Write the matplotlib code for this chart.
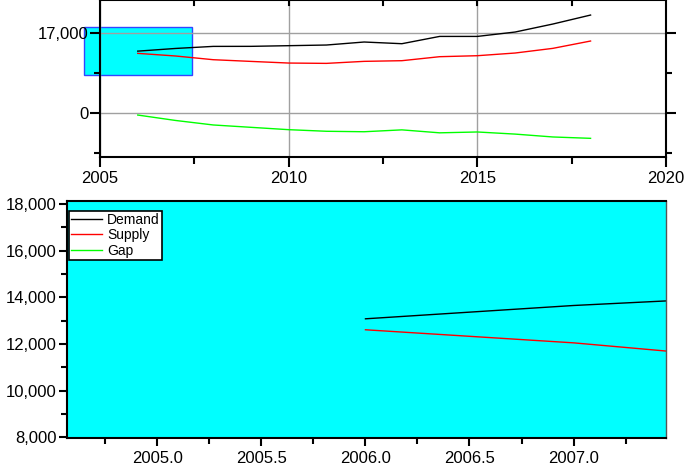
import matplotlib
matplotlib.use("Agg")
import matplotlib.pyplot as plt
from matplotlib.ticker import MultipleLocator, FixedLocator, FuncFormatter
from matplotlib.patches import Rectangle

plt.rcParams['font.family'] = ['Liberation Sans', 'DejaVu Sans']

years = [2006, 2007, 2008, 2009, 2010, 2011, 2012, 2013, 2014, 2015, 2016, 2017, 2018]
demand = [13080, 13650, 14090, 14100, 14240, 14380, 15020, 14660, 16210, 16210, 17140, 18840, 20750]
supply = [12610, 12050, 11260, 10900, 10550, 10480, 10910, 11050, 11900, 12110, 12680, 13670, 15230]
gap = [-500, -1650, -2610, -3110, -3610, -3950, -4050, -3650, -4280, -4100, -4550, -5160, -5450]

top_yticks = [0, 17000]
zoom_x = (2004.564, 2007.446)
zoom_y = (7960, 18140)

fig = plt.figure(figsize=(6.85, 4.65), dpi=100)

# ---------- top overview panel ----------
ax1 = fig.add_axes([0.146, 0.6624, 0.8263, 0.3376])
ax1.set_xlim(2005, 2020)
ax1.set_ylim(-9414, 23949)
ax1.plot(years, demand, color='black', lw=1.0, zorder=4)
ax1.plot(years, supply, color='red', lw=1.0, zorder=4)
ax1.plot(years, gap, color='#00ff00', lw=1.0, zorder=4)
rect = Rectangle((zoom_x[0], zoom_y[0]), zoom_x[1] - zoom_x[0], zoom_y[1] - zoom_y[0],
                 facecolor='cyan', edgecolor='#3344ff', lw=1.0, clip_on=False, zorder=1)
ax1.add_patch(rect)
ax1.xaxis.set_major_locator(MultipleLocator(5))
ax1.xaxis.set_minor_locator(MultipleLocator(2.5))
ax1.yaxis.set_major_locator(FixedLocator(top_yticks))
ax1.yaxis.set_minor_locator(FixedLocator([-8500, 8500]))
ax1.yaxis.set_major_formatter(FuncFormatter(lambda v, p: f"{int(v):,}"))
ax1.grid(True, which='major', color='#a0a0a0', lw=1.0, zorder=2)
ax1.set_axisbelow(False)
for s in ax1.spines.values():
    s.set_linewidth(1.5)
    s.set_zorder(5)
ax1.tick_params(axis='x', which='both', direction='out', top=False, labelsize=12, width=1.5, pad=3)
ax1.tick_params(axis='x', which='major', length=7)
ax1.tick_params(axis='x', which='minor', length=5)
ax1.tick_params(axis='y', which='both', direction='out', right=True, labelsize=12, width=1.5, pad=1)
ax1.tick_params(axis='y', which='major', length=7)
ax1.tick_params(axis='y', which='minor', length=4)
# top ticks pointing inward
for loc in [2007.5, 2010, 2012.5, 2015, 2017.5]:
    ax1.plot([loc, loc], [23949, 23949 - 5 * 212.5], color='black', lw=1.5, zorder=6, clip_on=False)

# ---------- bottom zoomed panel ----------
ax2 = fig.add_axes([0.0974, 0.0574, 0.8753, 0.511])
ax2.set_facecolor('cyan')
ax2.set_xlim(*zoom_x)
ax2.set_ylim(*zoom_y)
ax2.plot(years, demand, color='black', lw=1.0, label='Demand')
ax2.plot(years, supply, color='red', lw=1.0, label='Supply')
ax2.plot(years, gap, color='#00ff00', lw=1.0, label='Gap')
ax2.xaxis.set_major_locator(MultipleLocator(0.5))
ax2.xaxis.set_minor_locator(MultipleLocator(0.25))
ax2.xaxis.set_major_formatter(FuncFormatter(lambda v, p: f"{v:.1f}"))
ax2.yaxis.set_major_locator(MultipleLocator(2000))
ax2.yaxis.set_minor_locator(MultipleLocator(1000))
ax2.yaxis.set_major_formatter(FuncFormatter(lambda v, p: f"{int(v):,}"))
for k in ['left', 'bottom', 'top']:
    ax2.spines[k].set_linewidth(1.5)
ax2.spines['right'].set_linewidth(1.0)
ax2.spines['right'].set_color('#555555')
ax2.tick_params(axis='both', which='both', direction='out', labelsize=12, width=1.5, pad=1)
ax2.tick_params(axis='both', which='major', length=6)
ax2.tick_params(axis='both', which='minor', length=4)
ax2.tick_params(axis='x', which='major', pad=3)
leg = ax2.legend(loc='upper left', bbox_to_anchor=(0.004, 0.958), borderaxespad=0,
                 fontsize=10, handlelength=2.2, handletextpad=0.4, labelspacing=0.1,
                 borderpad=0.15, fancybox=False, framealpha=1, edgecolor='black')
leg.get_frame().set_linewidth(1.2)

fig.savefig('out.png', dpi=100)
